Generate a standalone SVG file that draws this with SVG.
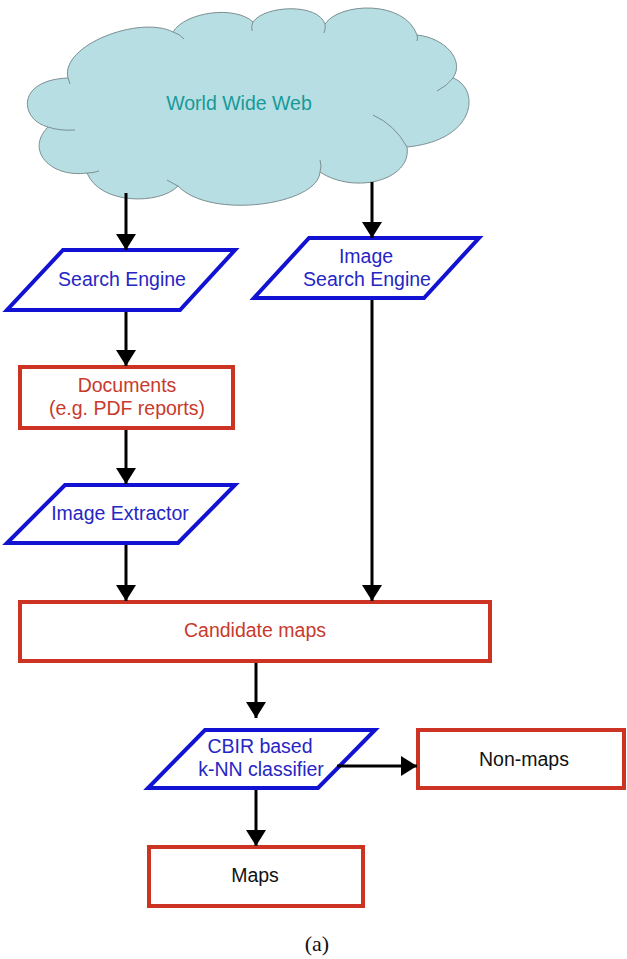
<svg xmlns="http://www.w3.org/2000/svg" width="627" height="959" viewBox="0 0 627 959">
<style>
.txt{font-family:"Liberation Sans",Arial,sans-serif;font-size:19.5px;text-anchor:middle}
.blue{fill:#2626c4}
.red{fill:#c83a2c}
.blk{fill:#111}
.para{fill:#fff;stroke:#1212d2;stroke-width:4;stroke-linejoin:miter}
.box{fill:#fff;stroke:#cc3322;stroke-width:4}
.conn{stroke:#000;stroke-width:3;fill:none;marker-end:url(#ah)}
</style>
<defs>
<marker id="ah" markerUnits="userSpaceOnUse" markerWidth="20" markerHeight="20" viewBox="0 0 16 20" refX="16" refY="10" orient="auto">
<path d="M0,0 L16,10 L0,20 Z" fill="#000"/>
</marker>
</defs>
<rect width="627" height="959" fill="#fff"/>
<g id="cloud">
<path d="M68,78 C60,45 140,15 173,32 C185,12 235,5 253,22 C265,5 318,3 325,24 C340,2 405,0 417,35 C445,38 465,60 453,78 C480,88 478,140 407,147 C412,180 355,195 320,172 C318,205 210,220 178,186 C160,205 100,205 87,173 C50,178 25,150 48,127 C20,120 15,80 68,78 Z" fill="#b6dee3" stroke="#7d8f92" stroke-width="1"/>
<path d="M173,32 Q180,34 184,39 M253,22 Q251,26 252,31 M325,24 Q326,28 324,33 M417,35 Q418,38 417,41 M453,78 Q447,86 437,91 M407,147 Q395,125 373,115 M320,172 Q322,166 320,160 M178,186 Q172,183 167,180 M87,173 Q93,173 99,171 M48,127 Q60,131 75,130 M68,78 Q69,81 70,84" fill="none" stroke="#7d8f92" stroke-width="1"/>
<text class="txt" x="239" y="110" fill="#179a98">World Wide Web</text>
</g>
<g id="search-engine">
<polygon class="para" points="63,250 235,250 180,310 7,310"/>
<text class="txt blue" x="122" y="286">Search Engine</text>
</g>
<g id="image-search-engine">
<polygon class="para" points="309,238 479,238 424,298 254,298"/>
<text class="txt blue" x="366" y="263">Image</text>
<text class="txt blue" x="367" y="286">Search Engine</text>
</g>
<g id="documents">
<rect class="box" x="20" y="367" width="213" height="61"/>
<text class="txt red" x="127" y="392">Documents</text>
<text class="txt red" x="127" y="415">(e.g. PDF reports)</text>
</g>
<g id="image-extractor">
<polygon class="para" points="65,485 235,485 178,543 7,543"/>
<text class="txt blue" x="120" y="520">Image Extractor</text>
</g>
<g id="candidate-maps">
<rect class="box" x="20" y="602" width="470" height="59"/>
<text class="txt red" x="255" y="637">Candidate maps</text>
</g>
<g id="cbir">
<polygon class="para" points="205,730 375,730 318,788 148,788"/>
<text class="txt blue" x="260" y="753">CBIR based</text>
<text class="txt blue" x="261" y="776">k-NN classifier</text>
</g>
<g id="non-maps">
<rect class="box" x="418" y="730" width="206" height="58"/>
<text class="txt blk" x="524" y="766">Non-maps</text>
</g>
<g id="maps">
<rect class="box" x="149" y="847" width="214" height="59"/>
<text class="txt blk" x="255" y="882">Maps</text>
</g>
<g id="connectors">
<path class="conn" d="M126,193 L126,250"/>
<path class="conn" d="M372,182 L372,238"/>
<path class="conn" d="M126,312 L126,366"/>
<path class="conn" d="M126,430 L126,484"/>
<path class="conn" d="M126,545 L126,601"/>
<path class="conn" d="M372,300 L372,601"/>
<path class="conn" d="M256,663 L256,718"/>
<path class="conn" d="M337,766 L417,766"/>
<path class="conn" d="M256,790 L256,846"/>
</g>
<text x="317" y="951" font-family="'Liberation Serif','DejaVu Serif',serif" font-size="22" text-anchor="middle" fill="#111">(a)</text>
</svg>
